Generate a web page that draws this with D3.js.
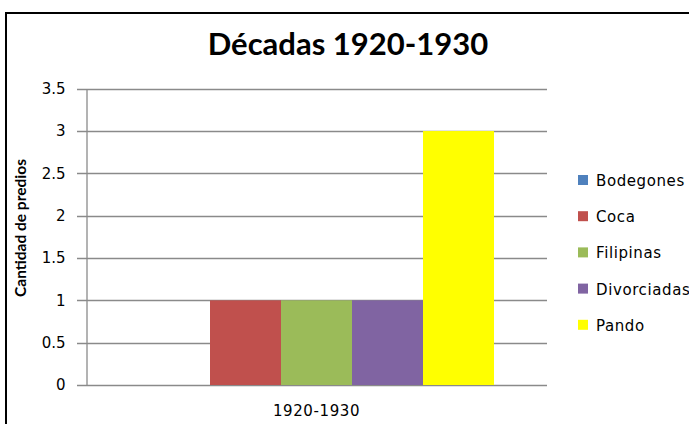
<!DOCTYPE html>
<html>
<head>
<meta charset="utf-8">
<script src="https://cdn.jsdelivr.net/npm/d3@7"></script>
<style>
  body { margin: 0; background: #fff; }
  svg { display: block; font-family: Lato, "Open Sans", sans-serif; }
</style>
</head>
<body>
<script>
// data
var categories = ["1920-1930"];
var seriesNames = ["Bodegones", "Coca", "Filipinas", "Divorciadas", "Pando"];
var seriesValues = [0, 1, 1, 1, 3];
var seriesColors = ["#4F81BD", "#C0504D", "#9BBB59", "#8064A2", "#FFFF00"];
var yTicks = [0, 0.5, 1, 1.5, 2, 2.5, 3, 3.5];

function drawChart() {
  var width = 689, height = 424;
  var plotLeft = 86, plotRight = 547, plotTop = 88.7, plotBottom = 385;
  var labelFont = "'DejaVu Sans', Verdana, sans-serif";

  var svg = d3.select("body").append("svg").attr("width", width).attr("height", height);

  // outer frame
  svg.append("rect")
    .attr("x", 6).attr("y", 13).attr("width", 700).attr("height", 430)
    .attr("fill", "none").attr("stroke", "#000").attr("stroke-width", 2);

  svg.append("text")
    .attr("x", 348).attr("y", 55)
    .attr("text-anchor", "middle")
    .attr("font-size", 31).attr("font-weight", "bold")
    .text("Décadas 1920-1930");

  var y = d3.scaleLinear().domain([0, 3.5]).range([plotBottom, plotTop]);
  var x0 = d3.scaleBand().domain(categories).range([plotLeft, plotRight]);
  var x1 = d3.scaleBand().domain(seriesNames).range([53, x0.bandwidth() - 53]);

  // gridlines
  svg.append("g").selectAll("line").data(yTicks).enter().append("line")
    .attr("x1", plotLeft - 9).attr("x2", plotRight)
    .attr("y1", function(d) { return Math.round(y(d)) + 0.5; })
    .attr("y2", function(d) { return Math.round(y(d)) + 0.5; })
    .attr("stroke", "#8a8a8a").attr("stroke-width", 1.3);

  // bars
  var barData = seriesNames.map(function(n, i) {
    return {cat: categories[0], name: n, value: seriesValues[i], color: seriesColors[i]};
  });
  svg.append("g").selectAll("rect").data(barData).enter().append("rect")
    .attr("x", function(d) { return x0(d.cat) + x1(d.name); })
    .attr("width", x1.bandwidth())
    .attr("y", function(d) { return y(d.value); })
    .attr("height", function(d) { return y(0) - y(d.value); })
    .attr("fill", function(d) { return d.color; });

  // y axis
  var yAxis = svg.append("g").attr("transform", "translate(" + (plotLeft + 0.5) + ",0)")
    .call(d3.axisLeft(y).tickValues(yTicks).tickSize(0).tickPadding(21).tickFormat(function(d) { return d; }));
  yAxis.select(".domain").attr("stroke", "#8a8a8a").attr("stroke-width", 1.3);
  yAxis.selectAll("text").attr("font-size", 15).attr("fill", "#000").attr("font-family", labelFont);

  // x axis label
  var xAxis = svg.append("g").attr("transform", "translate(0," + (plotBottom + 0.5) + ")")
    .call(d3.axisBottom(x0).tickSize(0).tickPadding(20));
  xAxis.select(".domain").remove();
  xAxis.selectAll("text").attr("font-size", 15).attr("fill", "#000")
    .attr("font-family", labelFont).attr("letter-spacing", 0.6);

  // y title
  svg.append("text")
    .attr("transform", "translate(26,228) rotate(-90)")
    .attr("text-anchor", "middle")
    .attr("font-size", 15.5).attr("font-weight", "bold")
    .text("Cantidad de predios");

  // legend
  var legend = svg.append("g").selectAll("g").data(barData).enter().append("g")
    .attr("transform", function(d, i) { return "translate(578," + (180 + i * 36.2) + ")"; });
  legend.append("rect").attr("x", 0).attr("y", -5).attr("width", 10).attr("height", 10)
    .attr("fill", function(d) { return d.color; });
  legend.append("text").attr("x", 18).attr("y", 6).attr("font-size", 15)
    .attr("font-family", labelFont).attr("letter-spacing", 0.6)
    .text(function(d) { return d.name; });
}

drawChart();
</script>
</body>
</html>
